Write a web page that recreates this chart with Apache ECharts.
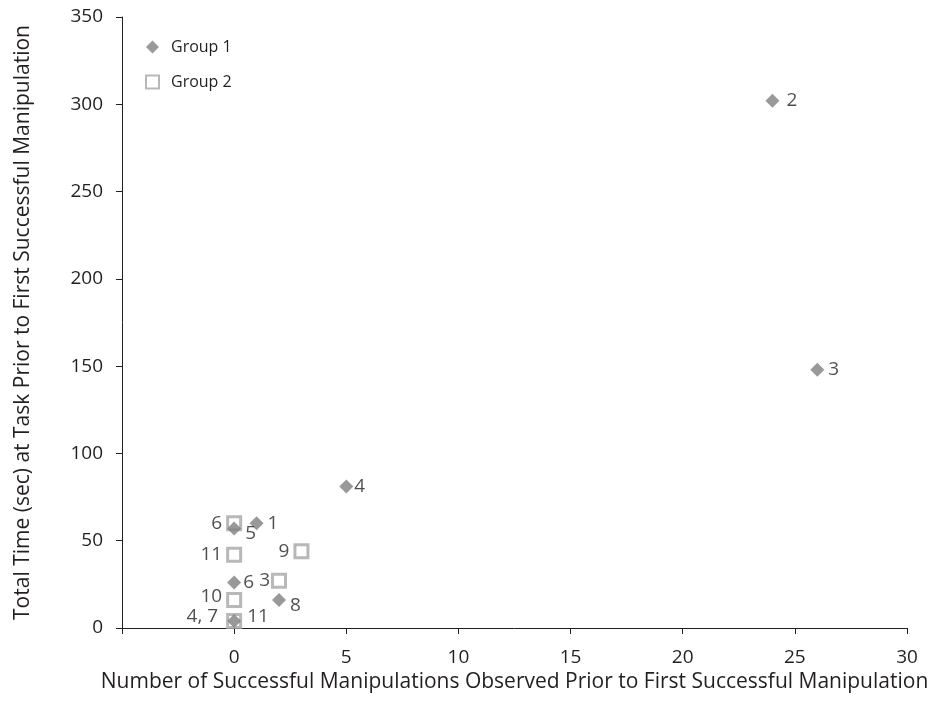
<!DOCTYPE html>
<html><head><meta charset="utf-8">
<script src="https://cdn.jsdelivr.net/npm/echarts@6/dist/echarts.min.js"></script>
<style>html,body{margin:0;padding:0;background:#fff}#c{width:936px;height:719px}</style>
</head><body><div id="c"></div>
<script>
const xTicks = [-5, 0, 5, 10, 15, 20, 25, 30];
const yTicks = [0, 50, 100, 150, 200, 250, 300, 350];
const g1X = [1, 24, 26, 5, 0, 0, 2, 0];
const g1Y = [60, 302, 148, 81, 57, 26, 16, 4];
const g1Labels = ['1', '2', '3', '4', '5', '6', '8', '4, 7'];
const g2X = [0, 0, 3, 2, 0, 0];
const g2Y = [60, 42, 44, 27, 16, 4];
const g2Labels = ['6', '11', '9', '3', '10', '11'];

const g1Place = {1: {position: 'right', distance: 7}, 3: {position: 'right', distance: 1},
  4: {position: 'right', offset: [0, 5]}, 5: {position: 'right', offset: [-2, 0]},
  6: {position: 'right', offset: [0, 6]},
  7: {position: 'left', offset: [-5, -4]}};
const g2Place = {3: {position: 'left', offset: [3, 0]}, 4: {position: 'left', offset: [0, -3]},
  5: {position: 'right', offset: [1, -4]}};

const ink = '#231f20';
const font = '"Open Sans", "Noto Sans", sans-serif';
const labelBase = {show: true, fontSize: 19, color: ink, fontFamily: font, distance: 4};

function mk(xs, ys, labels, place, defPos) {
  return xs.map((x, i) => {
    const p = place[i] || {position: defPos};
    return {value: [x, ys[i]], label: Object.assign({}, labelBase, p, {formatter: labels[i]})};
  });
}

const chart = echarts.init(document.getElementById('c'), null, {renderer: 'canvas'});
chart.setOption({
  animation: false,
  backgroundColor: '#fff',
  grid: {left: 122, right: 29, top: 17, bottom: 91, containLabel: false},
  legend: {
    orient: 'vertical', left: 140, top: 34, itemGap: 19,
    itemWidth: 13, itemHeight: 13,
    textStyle: {fontSize: 16, color: ink, fontFamily: font, padding: [0, 0, 0, 7]},
    data: [{name: 'Group 1'}, {name: 'Group 2'}]
  },
  xAxis: {
    type: 'value', min: xTicks[0], max: xTicks[xTicks.length - 1], interval: 5,
    name: 'Number of Successful Manipulations Observed Prior to First Successful Manipulation',
    nameLocation: 'middle', nameGap: 43,
    nameTextStyle: {fontSize: 21, color: ink, fontFamily: font},
    axisLine: {show: true, onZero: false, lineStyle: {color: ink, width: 1}},
    axisTick: {show: true, inside: false, length: 6, lineStyle: {color: ink}},
    axisLabel: {fontSize: 19, color: ink, fontFamily: font, margin: 20,
      formatter: v => (v === xTicks[0] ? '' : String(v))},
    splitLine: {show: false}
  },
  yAxis: {
    type: 'value', min: yTicks[0], max: yTicks[yTicks.length - 1], interval: 50,
    name: 'Total Time (sec) at Task Prior to First Successful Manipulation',
    nameLocation: 'middle', nameGap: 88, nameRotate: 90,
    nameTextStyle: {fontSize: 21, color: ink, fontFamily: font},
    axisLine: {show: true, onZero: false, lineStyle: {color: ink, width: 1}},
    axisTick: {show: true, inside: false, length: 6, lineStyle: {color: ink}},
    axisLabel: {fontSize: 19, color: ink, fontFamily: font, margin: 19},
    splitLine: {show: false}
  },
  series: [
    {
      name: 'Group 1', type: 'scatter', symbol: 'diamond', symbolSize: 14, z: 3,
      itemStyle: {color: '#7f7f7f'},
      data: mk(g1X, g1Y, g1Labels, g1Place, 'right')
    },
    {
      name: 'Group 2', type: 'scatter', symbol: 'rect', symbolSize: 13, z: 2,
      itemStyle: {color: 'rgba(255,255,255,0)', borderColor: '#a6a6a6', borderWidth: 3},
      data: mk(g2X, g2Y, g2Labels, g2Place, 'left')
    }
  ]
});
</script></body></html>
